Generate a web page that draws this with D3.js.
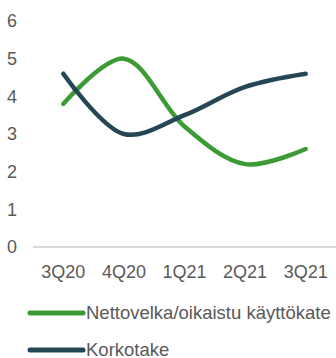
<!DOCTYPE html>
<html>
<head>
<meta charset="utf-8">
<script src="https://cdn.jsdelivr.net/npm/d3@7"></script>
<style>
  body { margin: 0; background: #fff; }
  text { font-family: "Liberation Sans", Arial, sans-serif; fill: #595959; }
</style>
</head>
<body>
<div id="chart"></div>
<script>
// data
const quarters = ["3Q20", "4Q20", "1Q21", "2Q21", "3Q21"];
const nettovelka = [3.8, 5.0, 3.2, 2.2, 2.6];
const korkotake = [4.6, 3.0, 3.5, 4.25, 4.6];
const yTicks = [0, 1, 2, 3, 4, 5, 6];
const seriesNames = ["Nettovelka/oikaistu käyttökate", "Korkotake"];
const seriesColors = ["#3d9b35", "#254655"];

const width = 336,
      height = 358;

const svg = d3.select("#chart")
  .append("svg")
    .attr("width", width)
    .attr("height", height);

// scales
const x = d3.scalePoint()
    .domain(quarters)
    .range([33, 336])
    .padding(0.5);

const y = d3.scaleLinear()
    .domain([0, 6])
    .range([247, 21]);

// y labels
svg.append("g")
  .selectAll("text")
  .data(yTicks)
  .join("text")
    .attr("x", 17)
    .attr("y", d => y(d))
    .attr("dy", "0.35em")
    .attr("text-anchor", "end")
    .style("font-size", "18px")
    .text(d => d);

// baseline
svg.append("line")
    .attr("x1", 33)
    .attr("x2", 336)
    .attr("y1", y(0))
    .attr("y2", y(0))
    .attr("stroke", "#d9d9d9")
    .attr("stroke-width", 2);

// x labels
svg.append("g")
  .selectAll("text")
  .data(quarters)
  .join("text")
    .attr("x", d => x(d))
    .attr("y", 272)
    .attr("dy", "0.35em")
    .attr("text-anchor", "middle")
    .style("font-size", "18px")
    .text(d => d);

// lines
const line = d3.line()
    .x((d, i) => x(quarters[i]))
    .y(d => y(d))
    .curve(d3.curveCatmullRom);

[nettovelka, korkotake].forEach((vals, i) => {
  svg.append("path")
    .datum(vals)
    .attr("d", line)
    .attr("fill", "none")
    .attr("stroke", seriesColors[i])
    .attr("stroke-width", 4.5)
    .attr("stroke-linecap", "round");
});

// legend
const legend = svg.append("g")
  .selectAll("g")
  .data(seriesNames)
  .join("g")
    .attr("transform", (d, i) => `translate(0,${313 + i * 37})`);

legend.append("line")
    .attr("x1", 30)
    .attr("x2", 83)
    .attr("stroke", (d, i) => seriesColors[i])
    .attr("stroke-width", 5)
    .attr("stroke-linecap", "round");

legend.append("text")
    .attr("x", 86)
    .attr("dy", "0.33em")
    .style("font-size", "18.5px")
    .text(d => d);
</script>
</body>
</html>
